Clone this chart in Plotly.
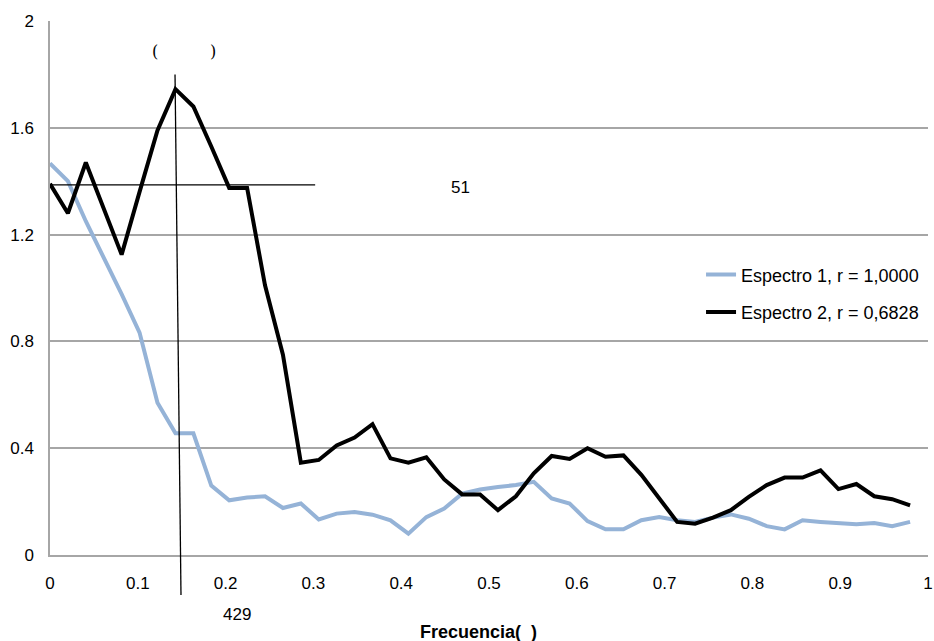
import plotly.graph_objects as go

# Frequencies (x values)
frecuencia = [0.0000, 0.0204, 0.0408, 0.0612, 0.0816, 0.1020, 0.1224, 0.1429, 0.1633, 0.1837,
              0.2041, 0.2245, 0.2449, 0.2653, 0.2857, 0.3061, 0.3265, 0.3469, 0.3673, 0.3878,
              0.4082, 0.4286, 0.4490, 0.4694, 0.4898, 0.5102, 0.5306, 0.5510, 0.5714, 0.5918,
              0.6122, 0.6327, 0.6531, 0.6735, 0.6939, 0.7143, 0.7347, 0.7551, 0.7755, 0.7959,
              0.8163, 0.8367, 0.8571, 0.8776, 0.8980, 0.9184, 0.9388, 0.9592, 0.9796]

espectro1 = [1.467, 1.40, 1.25, 1.115, 0.977, 0.833, 0.57, 0.456, 0.456, 0.26,
             0.205, 0.215, 0.22, 0.176, 0.193, 0.133, 0.155, 0.161, 0.151, 0.13,
             0.08, 0.142, 0.174, 0.23, 0.245, 0.255, 0.262, 0.274, 0.212, 0.193,
             0.127, 0.096, 0.096, 0.13, 0.142, 0.13, 0.124, 0.14, 0.152, 0.136,
             0.108, 0.096, 0.13, 0.124, 0.12, 0.115, 0.12, 0.108, 0.124]

espectro2 = [1.39, 1.28, 1.47, 1.30, 1.125, 1.36, 1.59, 1.745, 1.68, 1.53,
             1.375, 1.375, 1.01, 0.75, 0.346, 0.356, 0.41, 0.44, 0.49, 0.362,
             0.346, 0.366, 0.283, 0.227, 0.227, 0.168, 0.22, 0.306, 0.371, 0.36,
             0.40, 0.368, 0.373, 0.30, 0.21, 0.124, 0.117, 0.14, 0.168, 0.218,
             0.262, 0.29, 0.29, 0.317, 0.247, 0.266, 0.22, 0.209, 0.186]

nombres = ["Espectro 1, r = 1,0000", "Espectro 2, r = 0,6828"]
x_ticks = [0, 0.1, 0.2, 0.3, 0.4, 0.5, 0.6, 0.7, 0.8, 0.9, 1]
x_ticktext = ["0", "0.1", "0.2", "0.3", "0.4", "0.5", "0.6", "0.7", "0.8", "0.9", "1"]
y_ticks = [0, 0.4, 0.8, 1.2, 1.6, 2]
y_ticktext = ["0", "0.4", "0.8", "1.2", "1.6", "2"]

# reference lines
h_line_y = 1.386
h_line_x = [0, 0.302]
v_line_x = [0.1424, 0.1492]
v_line_y = [1.80, -0.15]

FONT = "Liberation Sans, Arial, sans-serif"

fig = go.Figure()
fig.add_trace(go.Scatter(x=frecuencia, y=espectro1, mode="lines", name=nombres[0],
                         line=dict(color="#95B3D7", width=4), legendgroup="a"))
fig.add_trace(go.Scatter(x=frecuencia, y=espectro2, mode="lines", name=nombres[1],
                         line=dict(color="#000000", width=4), legendgroup="b"))

fig.add_shape(type="line", xref="x", yref="y", x0=h_line_x[0], x1=h_line_x[1],
              y0=h_line_y, y1=h_line_y, line=dict(color="black", width=1.3))
fig.add_shape(type="line", xref="paper", yref="paper",
              x0=v_line_x[0], x1=v_line_x[1], y0=v_line_y[0] / 2, y1=v_line_y[1] / 2,
              line=dict(color="black", width=1.3))

ann_font = dict(family=FONT, size=17, color="black")
fig.add_annotation(x=0.1196, y=1.884, xref="x", yref="y", text="(", showarrow=False,
                   yanchor="middle", font=dict(family="DejaVu Serif", size=16, color="black"))
fig.add_annotation(x=0.1856, y=1.884, xref="x", yref="y", text=")", showarrow=False,
                   yanchor="middle", font=dict(family="DejaVu Serif", size=16, color="black"))
fig.add_annotation(x=0.467, y=1.378, xref="x", yref="y", text="51", showarrow=False,
                   yanchor="middle", font=ann_font)
fig.add_annotation(x=0.213, y=-0.1105, xref="x", yref="paper", text="429", showarrow=False,
                   xanchor="center", yanchor="middle", font=ann_font)
fig.add_annotation(x=0.4875, y=-0.144, xref="paper", yref="paper",
                   text="<b>Frecuencia(  )</b>", showarrow=False,
                   xanchor="center", yanchor="middle",
                   font=dict(family=FONT, size=18, color="black"))

fig.update_layout(
    width=934, height=641,
    margin=dict(l=50, r=6, t=21, b=86, autoexpand=False),
    paper_bgcolor="white", plot_bgcolor="white",
    font=dict(family=FONT, size=17, color="black"),
    showlegend=True,
    legend=dict(x=0.7415, y=0.49, xanchor="left", yanchor="middle",
                bgcolor="rgba(0,0,0,0)", font=dict(family=FONT, size=18),
                tracegroupgap=11, traceorder="grouped"),
    xaxis=dict(range=[0, 1], tickvals=x_ticks, ticktext=x_ticktext, showgrid=False,
               zeroline=False, showline=True, linecolor="#A6A6A6", linewidth=1.5,
               ticks="", ticklabelstandoff=12, fixedrange=True, automargin=False),
    yaxis=dict(range=[0, 2], tickvals=y_ticks, ticktext=y_ticktext, showgrid=True,
               gridcolor="#A6A6A6", gridwidth=1.5, zeroline=False, showline=True,
               linecolor="#A6A6A6", linewidth=1.5, ticks="", ticklabelstandoff=11,
               fixedrange=True, automargin=False),
)

# remove the default 8px page margin so the figure fills the 934x641 window exactly
fig.write_html("out.html", config={"displayModeBar": False},
               post_script="document.body.style.margin='0';document.body.style.overflow='hidden';")
